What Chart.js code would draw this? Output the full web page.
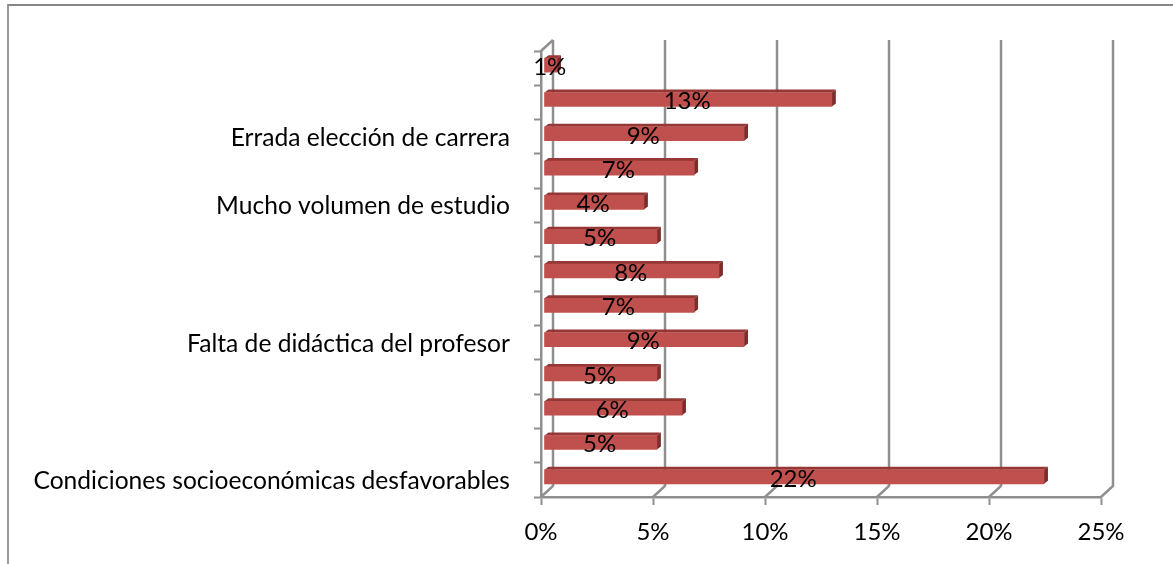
<!DOCTYPE html>
<html>
<head>
<meta charset="utf-8">
<script src="https://cdn.jsdelivr.net/npm/chart.js@4"></script>
<style>
  html, body { margin: 0; background: #fff; overflow: hidden; }
  #wrap { position: relative; width: 1173px; height: 564px; }
  #frame { position: absolute; left: 7px; top: 4px; right: 0; bottom: 0; border-top: 2px solid #868686; border-left: 2px solid #999; }
  canvas { position: absolute; left: 0; top: 0; }
</style>
</head>
<body>
<div id="wrap">
  <div id="frame"></div>
  <canvas id="chart" width="1173" height="564"></canvas>
</div>
<script>
const categories = ["", "", "Errada elección de carrera", "", "Mucho volumen de estudio", "", "", "", "Falta de didáctica del profesor", "", "", "", "Condiciones socioeconómicas desfavorables"];
const values = [0.58, 12.85, 8.93, 6.7, 4.46, 5.04, 7.81, 6.7, 8.93, 5.04, 6.16, 5.04, 22.32];
const xTicks = [0, 5, 10, 15, 20, 25];

const FONT = "Lato, Carlito, Calibri, sans-serif";
const AXIS = "#8f8f8f";

// fake 3D: back walls behind the plot, and depth faces on every bar
const walls = {
  id: "walls",
  beforeDatasetsDraw(chart) {
    const { ctx, scales: { x }, chartArea: { top, bottom } } = chart;
    ctx.save();
    ctx.strokeStyle = AXIS;
    ctx.lineWidth = 2.5;
    xTicks.forEach((t) => {
      const px = x.getPixelForValue(t);
      ctx.beginPath();
      ctx.moveTo(px, bottom);
      ctx.lineTo(px + 12, bottom - 11);
      ctx.lineTo(px + 12, top - 11);
      ctx.stroke();
    });
    const left = x.getPixelForValue(0);
    ctx.beginPath();
    ctx.moveTo(left, top);
    ctx.lineTo(left + 12, top - 11);
    ctx.stroke();
    ctx.restore();
  }
};

const bars3d = {
  id: "bars3d",
  beforeDatasetDraw(chart) {
    const { ctx } = chart;
    ctx.save();
    ctx.translate(3, -3);
    chart.getDatasetMeta(0).data.forEach((bar) => {
      const p = bar.getProps(["x", "y", "base", "height"], true);
      const t = p.y - p.height / 2, b = p.y + p.height / 2;
      ctx.fillStyle = "#953735";
      ctx.beginPath();
      ctx.moveTo(p.base, t);
      ctx.lineTo(p.base + 4, t - 3);
      ctx.lineTo(p.x + 4, t - 3);
      ctx.lineTo(p.x, t);
      ctx.closePath();
      ctx.fill();
      ctx.fillStyle = "#7d2e2c";
      ctx.beginPath();
      ctx.moveTo(p.x, t);
      ctx.lineTo(p.x + 4, t - 3);
      ctx.lineTo(p.x + 4, b - 3);
      ctx.lineTo(p.x, b);
      ctx.closePath();
      ctx.fill();
    });
  },
  afterDatasetDraw(chart) {
    chart.ctx.restore();
  },
  afterDatasetsDraw(chart) {
    const { ctx } = chart;
    ctx.save();
    ctx.fillStyle = "#000";
    ctx.font = "24px " + FONT;
    ctx.textAlign = "center";
    ctx.textBaseline = "middle";
    chart.getDatasetMeta(0).data.forEach((bar, i) => {
      const p = bar.getProps(["x", "y", "base"], true);
      ctx.fillText(Math.round(values[i]) + "%", (p.x + p.base) / 2 + 2, p.y - 1);
    });
    ctx.restore();
  }
};

new Chart(document.getElementById("chart"), {
  type: "bar",
  data: {
    labels: categories,
    datasets: [{
      data: values,
      backgroundColor: "#c0504d",
      barThickness: 14
    }]
  },
  options: {
    indexAxis: "y",
    responsive: false,
    animation: false,
    layout: { padding: { top: 51, right: 72 } },
    plugins: { legend: { display: false }, tooltip: { enabled: false } },
    scales: {
      x: {
        min: 0,
        max: 25,
        afterFit(scale) { scale.height = 67; },
        afterBuildTicks(scale) { scale.ticks = xTicks.map((value) => ({ value })); },
        border: { color: AXIS, width: 2.5 },
        grid: { drawOnChartArea: false, tickColor: AXIS, tickLength: 8, tickWidth: 2 },
        ticks: {
          color: "#000",
          padding: 13,
          maxRotation: 0,
          font: { family: FONT, size: 24 },
          callback: (v) => v + "%"
        }
      },
      y: {
        afterFit(scale) { scale.width = 541; },
        border: { color: AXIS, width: 2.5 },
        grid: { drawOnChartArea: false, tickColor: AXIS, tickLength: 7, tickWidth: 2 },
        ticks: {
          color: "#000",
          padding: 24,
          labelOffset: 1,
          autoSkip: false,
          font: { family: FONT, size: 24.6 }
        }
      }
    }
  },
  plugins: [walls, bars3d]
});
</script>
</body>
</html>
